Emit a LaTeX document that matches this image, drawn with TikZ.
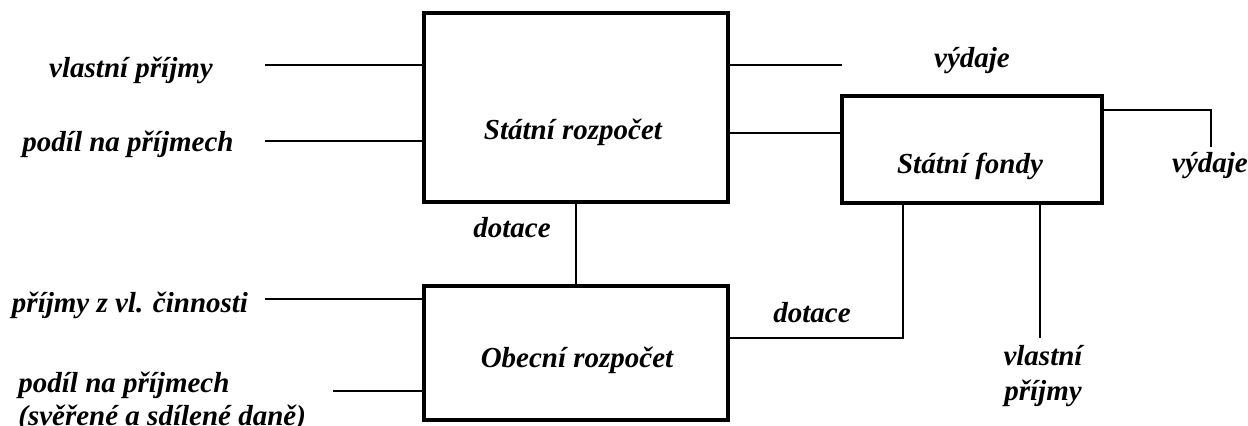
\documentclass[tikz,border=0pt]{standalone}
\usepackage{fontspec}
\setmainfont{Liberation Serif}
\begin{document}
\begin{tikzpicture}[x=0.5pt,y=-0.5pt,
  lbl/.style={font=\fontsize{14.5}{16}\selectfont\bfseries\itshape, inner sep=0pt},
  box/.style={draw, line width=2pt, inner sep=0pt},
  wire/.style={line width=1pt}]
\useasboundingbox (0,0) rectangle (1248,426);

% budget blocks
\node[box, minimum width=152pt, minimum height=94.5pt] (sr) at (576,107.5) {};
\node[box, minimum width=130pt, minimum height=53.5pt] (sf) at (972,149.5) {};
\node[box, minimum width=152pt, minimum height=67pt] (or) at (576,353) {};

\node[lbl] (srt) at (573,132) {Státní rozpočet};
\node[lbl] (sft) at (970,166) {Státní fondy};
\node[lbl] (ort) at (577,360) {Obecní rozpočet};

% labels
\node[lbl] (l1) at (131,70) {vlastní příjmy};
\node[lbl] (l2) at (128,144) {podíl na příjmech};
\node[lbl] (l3) at (972,61) {výdaje};
\node[lbl] (l4) at (1210,166) {výdaje};
\node[lbl] (l5) at (512,228) {dotace};
\node[lbl] (l6) at (812,313) {dotace};
\node[lbl] (l7) at (130,305) {příjmy z vl. činnosti};
\node[lbl, align=left, anchor=west, font=\fontsize{14.5}{16.5}\selectfont\bfseries\itshape] (l8) at (18,402) {podíl na příjmech\\(svěřené a sdílené daně)};
\node[lbl, align=center, font=\fontsize{14.5}{17.5}\selectfont\bfseries\itshape] (l9) at (1043,376) {vlastní\\příjmy};

% free line ends
\coordinate (e1) at (265,65);
\coordinate (e2) at (265,141);
\coordinate (e3) at (842,65);
\coordinate (e4) at (1211,147);
\coordinate (e5) at (265,299);
\coordinate (e6) at (333,391);
\coordinate (e7) at (1040,338);
\coordinate (k1) at (903,338);

% connectors
\draw[wire] (e1) -- (e1 -| sr.west);
\draw[wire] (e2) -- (e2 -| sr.west);
\draw[wire] (e3 -| sr.east) -- (e3);
\draw[wire] (sr.east |- 0,133) -- (sf.west |- 0,133);
\draw[wire] (sf.east |- 0,110) -| (e4);
\draw[wire] (sr.south) -- (or.north);
\draw[wire] (e5) -- (e5 -| or.west);
\draw[wire] (e6) -- (e6 -| or.west);
\draw[wire] (or.east |- k1) -- (k1) -- (k1 |- sf.south);
\draw[wire] (e7 |- sf.south) -- (e7);
\end{tikzpicture}
\end{document}
